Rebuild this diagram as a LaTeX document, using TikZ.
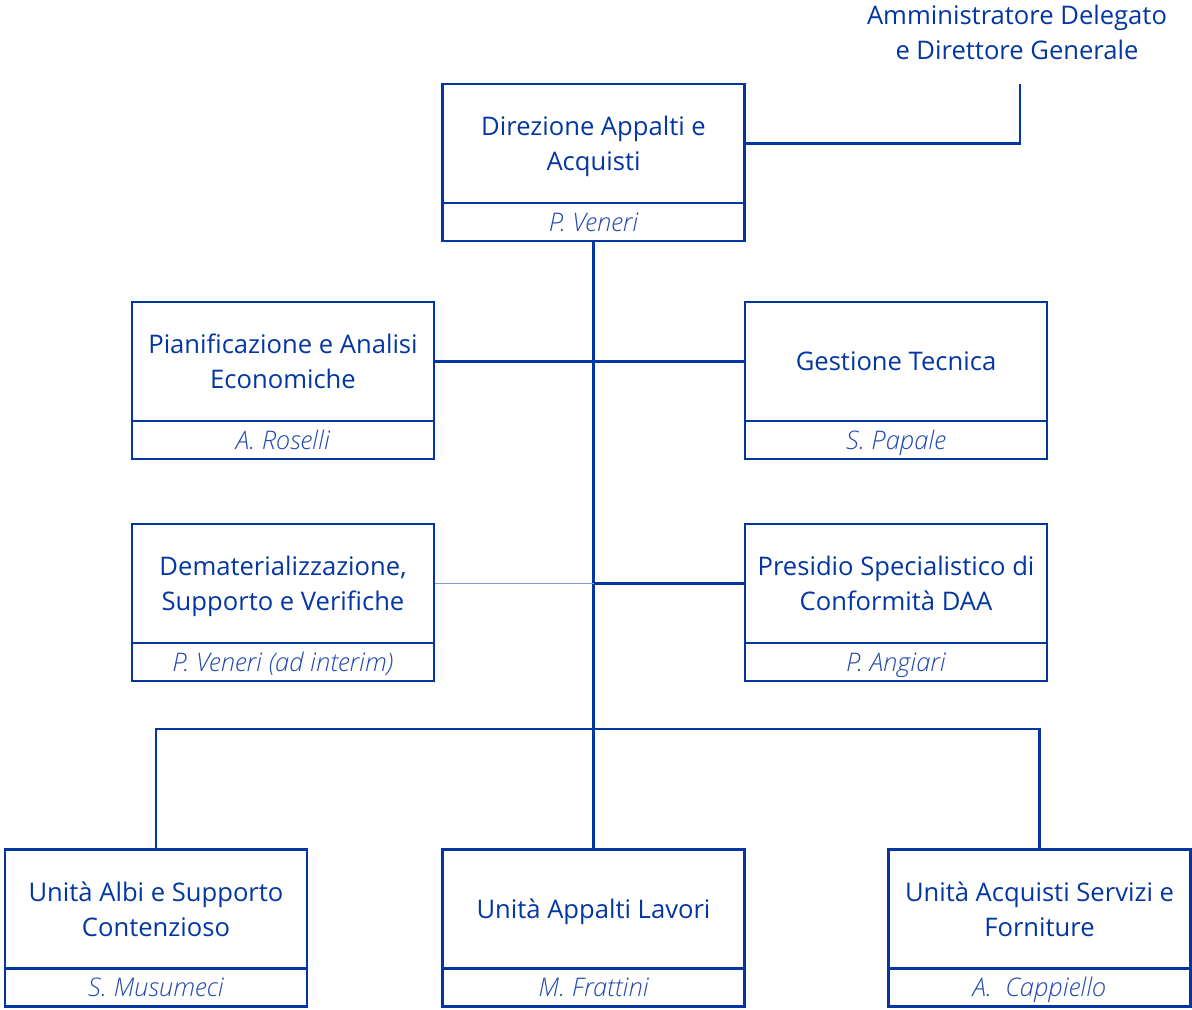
\documentclass[tikz,border=0pt]{standalone}
\usepackage{fontspec}
\setmainfont{Open Sans}
\newfontfamily\namefont{Open Sans Light}[ItalicFont={Open Sans Light Italic}]
\usepackage{tikz}
\usetikzlibrary{positioning}
\definecolor{orgblue}{HTML}{0336A3}
\definecolor{nameblue}{HTML}{2248B0}

\begin{document}
\begin{tikzpicture}[x=0.5pt,y=-0.5pt,
  every node/.style={font=\fontsize{12.8}{17.5}\selectfont,text=orgblue},
  unit/.style={draw=orgblue,line width=1.25pt,minimum width=151pt,minimum height=59.5pt,
    inner sep=0pt,align=center,text depth=0pt},
  head/.style={draw=orgblue,line width=1.25pt,minimum width=151pt,minimum height=19pt,
    inner sep=0pt,text height=9.2pt,text depth=0pt,
    font=\namefont\fontsize{12.8}{14}\itshape,text=nameblue},
  link/.style={draw=orgblue,line width=1.25pt}]
  \useasboundingbox (0,0) rectangle (1192,1009);

  \node[align=center] (AD) at (1017,32) {Amministratore Delegato\\e Direttore Generale};
  \coordinate (ADend) at (1020,84);

  \node[unit] (DAA) at (593.5,143.5) {Direzione Appalti e\\Acquisti};
  \node[head,below=-1.25pt of DAA] (DAAh) {P. Veneri};

  \node[unit] (PAE) at (283,361.5) {Pianificazione e Analisi\\Economiche};
  \node[head,below=-1.25pt of PAE] (PAEh) {A. Roselli};
  \node[unit] (GT) at (896,361.5) {Gestione Tecnica};
  \node[head,below=-1.25pt of GT] (GTh) {S. Papale};

  \node[unit] (DSV) at (283,583.5) {Dematerializzazione,\\Supporto e Verifiche};
  \node[head,below=-1.25pt of DSV] (DSVh) {P. Veneri (ad interim)};
  \node[unit] (PSC) at (896,583.5) {Presidio Specialistico di\\Conformità DAA};
  \node[head,below=-1.25pt of PSC] (PSCh) {P. Angiari};

  \node[unit] (UAS) at (156,909) {Unità Albi e Supporto\\Contenzioso};
  \node[head,below=-1.25pt of UAS] (UASh) {S. Musumeci};
  \node[unit] (UAL) at (593.5,909) {Unità Appalti Lavori};
  \node[head,below=-1.25pt of UAL] (UALh) {M. Frattini};
  \node[unit] (UASF) at (1039.5,909) {Unità Acquisti Servizi e\\Forniture};
  \node[head,below=-1.25pt of UASF] (UASFh) {A.\ \ Cappiello};

  \coordinate (mid) at (593.5,583.5);
  \coordinate (bus) at (593.5,729);

  \draw[link] (DAA.east) -| (ADend);
  \draw[link] (DAAh.south) -- (UAL.north);
  \draw[link] (PAE.east) -- (GT.west);
  \draw[draw=orgblue!50,line width=0.9pt] (DSV.east) -- (mid);
  \draw[link] (mid) -- (PSC.west);
  \draw[link] (UAS.north) |- (bus) -| (UASF.north);
\end{tikzpicture}
\end{document}
